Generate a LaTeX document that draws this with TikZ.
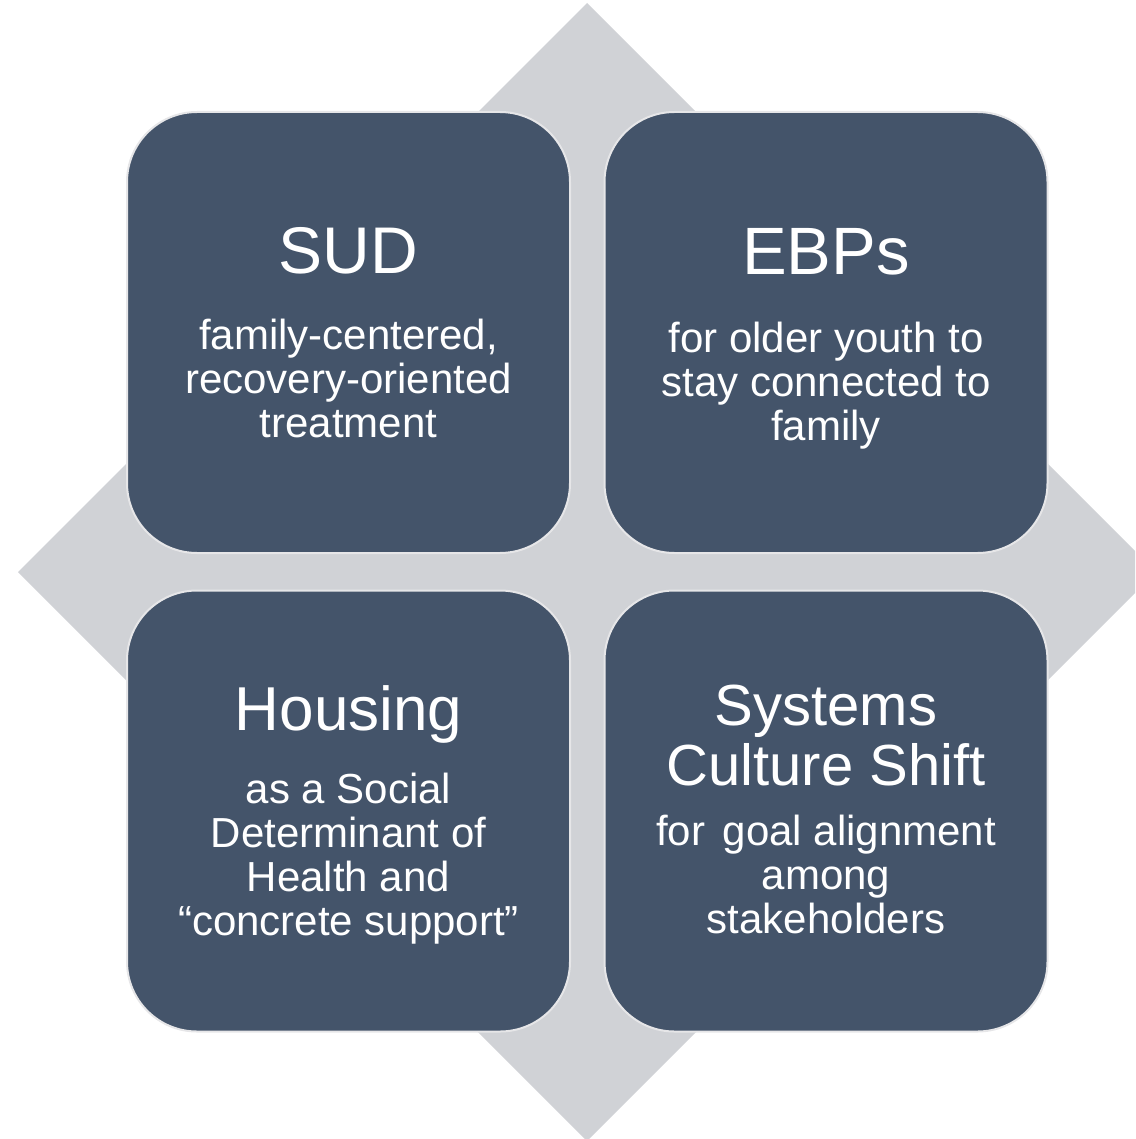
\documentclass[tikz,border=0pt]{standalone}
\usepackage{fontspec}
\setmainfont{Liberation Sans}
\usetikzlibrary{positioning}
\definecolor{slate}{HTML}{44546A}
\definecolor{diamondgray}{HTML}{D0D2D6}
\definecolor{edge}{HTML}{E6E6E8}
\tikzset{
  quad/.style={draw=edge,line width=1pt,fill=slate,rounded corners=35pt,
    minimum width=221.5pt,minimum height=220.5pt,inner sep=0pt},
  headtext/.style={text=white,anchor=base,inner sep=0pt,align=center},
  bodytext/.style={text=white,anchor=base,inner sep=0pt,align=center,
    font=\fontsize{21}{22}\selectfont},
}
\begin{document}
\begin{tikzpicture}[x=0.5pt,y=-0.5pt]
\useasboundingbox (0,0) rectangle (1135,1139);
\clip (0,0) rectangle (1135,1139);
% grey diamond behind the four boxes
\fill[diamondgray] (587,3) -- (18,572) -- (587,1141) -- (1156,572) -- cycle;

% the four boxes
\node[quad] (sud) at (348.5,332.5) {};
\node[quad] (ebp) at (826,332.5) {};
\node[quad] (housing) at (348.5,811) {};
\node[quad] (systems) at (826,811) {};

% top left (base = last line)
\node[headtext,font=\fontsize{33}{33}\selectfont] (sudhead) at (348.5,273) {SUD};
\node[bodytext] (sudbody) at (348.5,437) {family-centered,\\recovery-oriented\\treatment};
% top right
\node[headtext,font=\fontsize{33.5}{33.5}\selectfont] (ebphead) at (826,274) {EBPs};
\node[bodytext] (ebpbody) at (826,440) {for older youth to\\stay connected to\\family};
% bottom left
\node[headtext,font=\fontsize{31}{31}\selectfont] (housinghead) at (348.5,730) {Housing};
\node[bodytext] (housingbody) at (348.5,935) {as a Social\\Determinant of\\Health and\\“concrete support”};
% bottom right
\node[headtext,font=\fontsize{29}{30}\selectfont] (systemshead) at (826,785) {Systems\\Culture Shift};
\node[bodytext] (systemsbody) at (826,933) {for\hspace{0.42em}goal alignment\\among\\stakeholders};
\end{tikzpicture}
\end{document}
